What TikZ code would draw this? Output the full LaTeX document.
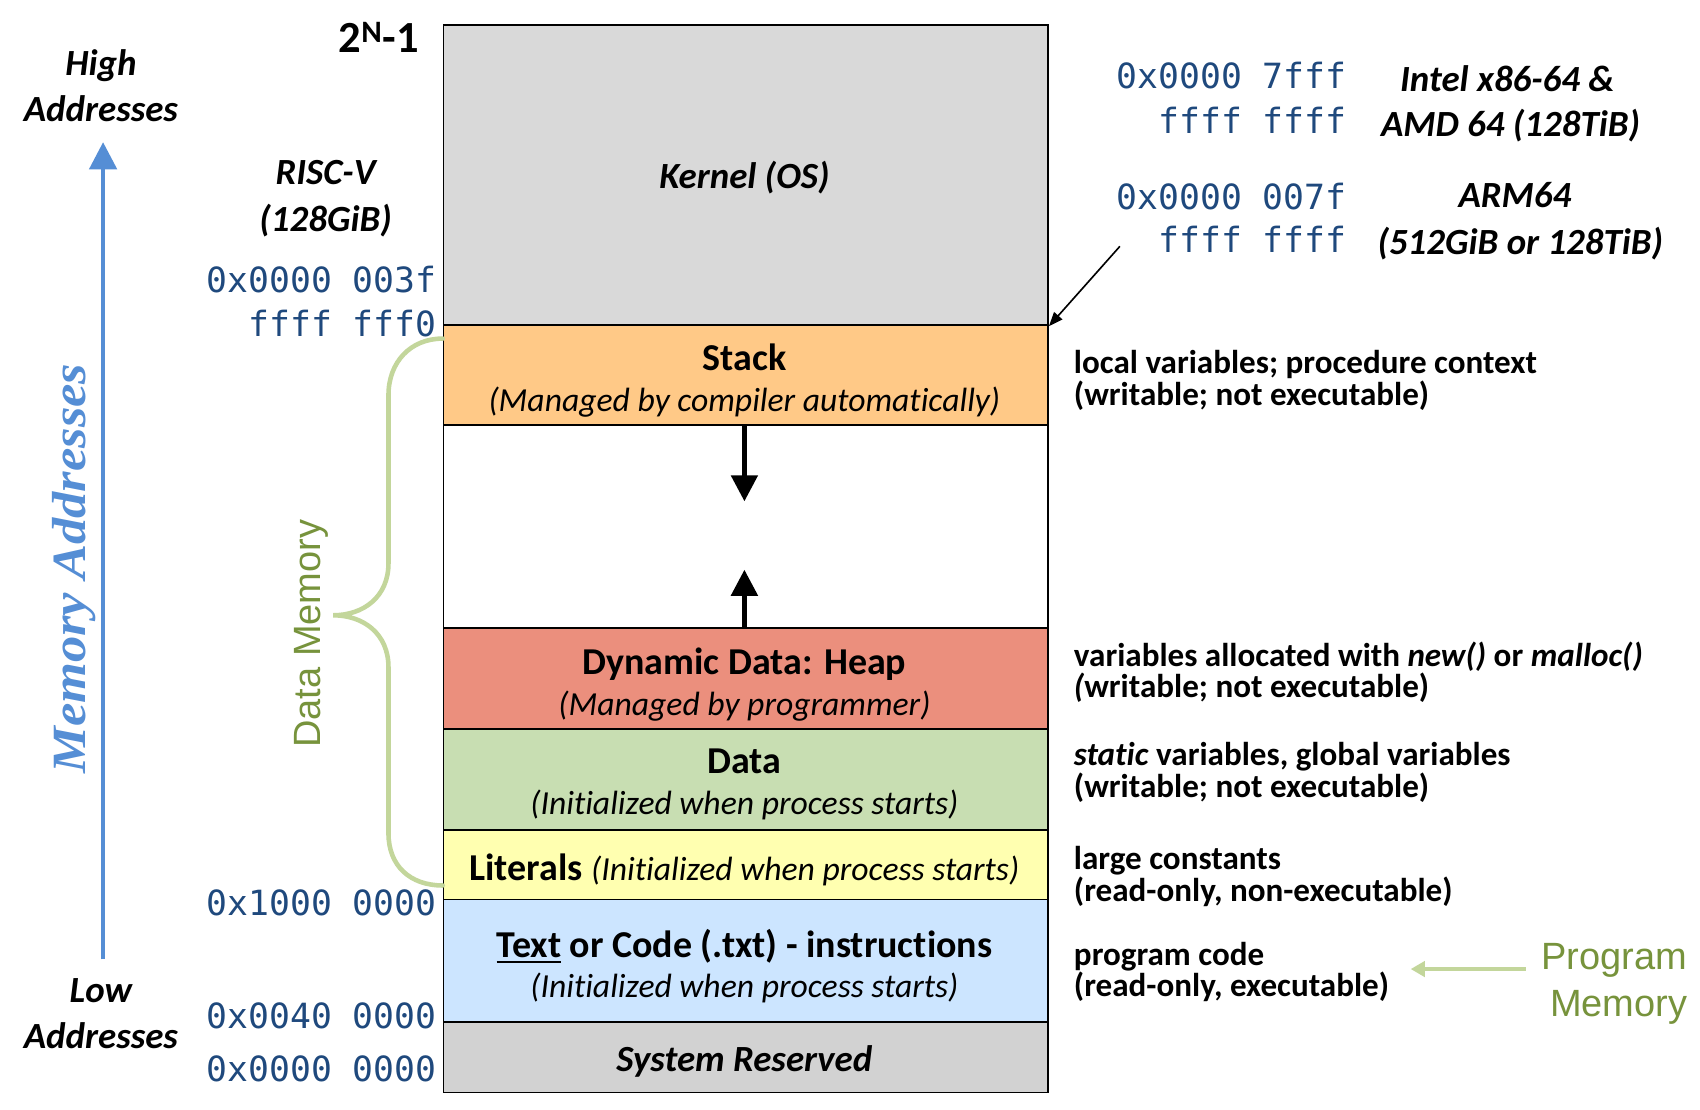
\documentclass[tikz,border=0pt]{standalone}
\usepackage{fontspec}
\setmainfont{Carlito}[Ligatures=NoCommon]
\newfontfamily\monofont{DejaVu Sans Mono}
\newfontfamily\arialfont{Liberation Sans}
\newfontfamily\memfont[FakeStretch=1.1]{Liberation Serif}
\usetikzlibrary{arrows.meta}
\definecolor{kernelgray}{RGB}{217,217,217}
\definecolor{stackorange}{RGB}{255,201,135}
\definecolor{heapred}{RGB}{235,143,125}
\definecolor{datagreen}{RGB}{200,222,178}
\definecolor{lityellow}{RGB}{255,255,176}
\definecolor{textblue}{RGB}{204,229,255}
\definecolor{sysgray}{RGB}{210,210,210}
\definecolor{addrblue}{RGB}{31,73,125}
\definecolor{axisblue}{RGB}{85,142,213}
\definecolor{bracegreen}{RGB}{195,214,155}
\definecolor{labelgreen}{RGB}{119,147,60}
\newcommand\myul[1]{\vtop{\hbox{#1}\kern3pt\hrule height 2.2pt}}
\begin{document}
\begin{tikzpicture}[x=1pt,y=-1pt,
  seg/.style={draw=black, line width=1.6pt, inner sep=0pt, minimum width=557pt, anchor=north west},
  ttl/.style={anchor=base, inner sep=0pt, font=\fontsize{35}{38}\selectfont\bfseries},
  sub/.style={anchor=base, inner sep=0pt, font=\fontsize{31}{34}\selectfont\itshape},
  addr/.style={anchor=base east, inner sep=0pt, text=addrblue, font=\fontsize{32}{40}\selectfont\monofont},
  bi/.style={anchor=base, inner sep=0pt, font=\fontsize{34}{40}\selectfont\bfseries\itshape},
  note/.style={anchor=base west, inner sep=0pt, font=\fontsize{30.5}{29}\selectfont\bfseries},
  glabel/.style={anchor=base east, inner sep=0pt, text=labelgreen, font=\fontsize{35}{40}\selectfont\arialfont},
  growarrow/.style={line width=4.5pt, -{Triangle[width=24pt,length=24pt]}}
]
\useasboundingbox (0,0) rectangle (1566.6,1022);
\fill[white] (0,0) rectangle (1566.6,1022);

% memory segments
\node[seg, fill=kernelgray,  minimum height=277pt] (kernel) at (408,22) {};
\node[seg, fill=stackorange, minimum height=92pt]  (stack)  at (408,299) {};
\node[seg, fill=white,       minimum height=187pt] (gap)    at (408,391) {};
\node[seg, fill=heapred,     minimum height=93pt]  (heap)   at (408,578) {};
\node[seg, fill=datagreen,   minimum height=93pt]  (data)   at (408,671) {};
\node[seg, fill=lityellow,   minimum height=64pt]  (lit)    at (408,764) {};
\node[seg, fill=textblue,    minimum height=113pt] (code)   at (408,828) {};
\node[seg, fill=sysgray,     minimum height=65pt]  (sys)    at (408,941) {};

% segment texts
\node[bi]  (kerneltxt) at (686,174) {Kernel (OS)};
\node[ttl] (stacktxt)  at (686,341) {Stack};
\node[sub] (stacksub)  at (686,379) {(Managed by compiler automatically)};
\node[ttl] (heaptxt)   at (686,621.5) {Dynamic Data: Heap};
\node[sub] (heapsub)   at (686,659) {(Managed by programmer)};
\node[ttl] (datatxt)   at (686,713) {Data};
\node[sub] (datasub)   at (686,751) {(Initialized when process starts)};
\node[ttl] (littxt)    at (686,811) {Literals {\fontsize{31}{34}\selectfont\mdseries\itshape (Initialized when process starts)}};
\node[ttl] (codetxt)   at (686,882) {\myul{Text} or Code (.txt) - instructions};
\node[sub] (codesub)   at (686,919) {(Initialized when process starts)};
\node[bi]  (systxt)    at (686,987) {System Reserved};

% growth arrows
\coordinate (stackarrowstart) at (686,393);
\coordinate (stackarrowend) at (686,462);
\coordinate (heaparrowstart) at (686,578);
\coordinate (heaparrowend) at (686,525);
\draw[growarrow] (stackarrowstart) -- (stackarrowend);
\draw[growarrow] (heaparrowstart) -- (heaparrowend);

% left side
\node[bi] (high1) at (93,70) {High};
\node[bi] (high2) at (93,112) {Addresses};
\node[bi] (low1) at (93,923.5) {Low};
\node[bi] (low2) at (93,966.5) {Addresses};
\coordinate (axbot) at (95,884);
\coordinate (axtop) at (95,131);
\draw[axisblue, line width=4pt, -{Triangle[width=25pt,length=25pt]}] (axbot) -- (axtop);
\node[rotate=90, anchor=base, inner sep=0pt, text=axisblue, font=\fontsize{44}{46}\selectfont\memfont\bfseries\itshape] (memaddr) at (79,524) {Memory Addresses};

\node[anchor=base east, inner sep=0pt, font=\fontsize{41}{44}\selectfont\bfseries] (twoN) at (386,48.5) {2\textsuperscript{N}-1};
\node[bi] (riscv1) at (300,170) {RISC-V};
\node[bi] (riscv2) at (300,213) {(128GiB)};
\node[addr] (a1) at (402.5,270) {0x0000 003f};
\node[addr] (a2) at (402.5,310) {ffff fff0};
\node[addr] (a3) at (402.5,843.6) {0x1000 0000};
\node[addr] (a4) at (402.5,948) {0x0040 0000};
\node[addr] (a5) at (402.5,997) {0x0000 0000};

% data memory brace
\coordinate (brtop) at (408,312);
\coordinate (brtip) at (307,567);
\coordinate (brbot) at (408,816);
\draw[bracegreen, line width=4.2pt, line cap=round]
  (brtop) .. controls (378,312) and (358,334) .. (358,364) -- (358,519)
  .. controls (358,550) and (335,567) .. (brtip)
  .. controls (335,567) and (358,584) .. (358,615) -- (358,768)
  .. controls (358,798) and (378,816) .. (brbot);
\node[rotate=90, anchor=base, inner sep=0pt, text=labelgreen, font=\fontsize{35}{40}\selectfont\arialfont] (datamem) at (295,584) {Data Memory};

% right side: top addresses
\node[addr] (r1) at (1241,82) {0x0000 7fff};
\node[addr] (r2) at (1241,123) {ffff ffff};
\node[addr] (r3) at (1241,192.6) {0x0000 007f};
\node[addr] (r4) at (1241,233) {ffff ffff};
\node[bi] (intel1) at (1389,84) {Intel x86-64 \&};
\node[bi] (intel2) at (1392,125.4) {AMD 64 (128TiB)};
\node[bi] (arm1) at (1396,191.5) {ARM64};
\node[bi] (arm2) at (1401,234.5) {(512GiB or 128TiB)};
\coordinate (pointerstart) at (1032,227);
\draw[line width=1.5pt, -{Triangle[width=10pt,length=13pt]}] (pointerstart) -- (kernel.south east);

% right side notes
\node[note] (n1a) at (989.5,344.5) {local variables; procedure context};
\node[note] (n1b) at (989.5,373.5) {(writable; not executable)};
\node[note] (n2a) at (989.5,614) {variables allocated with \textit{new()} or \textit{malloc()}};
\node[note] (n2b) at (989.5,643) {\textit{(}writable; not executable)};
\node[note] (n3a) at (989.5,705.5) {\textit{static} variables, global variables};
\node[note] (n3b) at (989.5,734.5) {(writable; not executable)};
\node[note] (n4a) at (989.5,801) {large constants};
\node[note] (n4b) at (989.5,830.5) {(read-only, non-executable)};
\node[note] (n5a) at (989.5,889.5) {program code};
\node[note] (n5b) at (989.5,918.5) {(read-only, executable)};

% program memory
\node[glabel] (prog1) at (1555,893) {Program};
\node[glabel] (prog2) at (1555,937) {Memory};
\coordinate (pmstart) at (1406,893);
\coordinate (pmend) at (1300,893);
\draw[bracegreen, line width=4.5pt, -{Triangle[width=14pt,length=13pt]}] (pmstart) -- (pmend);
\end{tikzpicture}
\end{document}
